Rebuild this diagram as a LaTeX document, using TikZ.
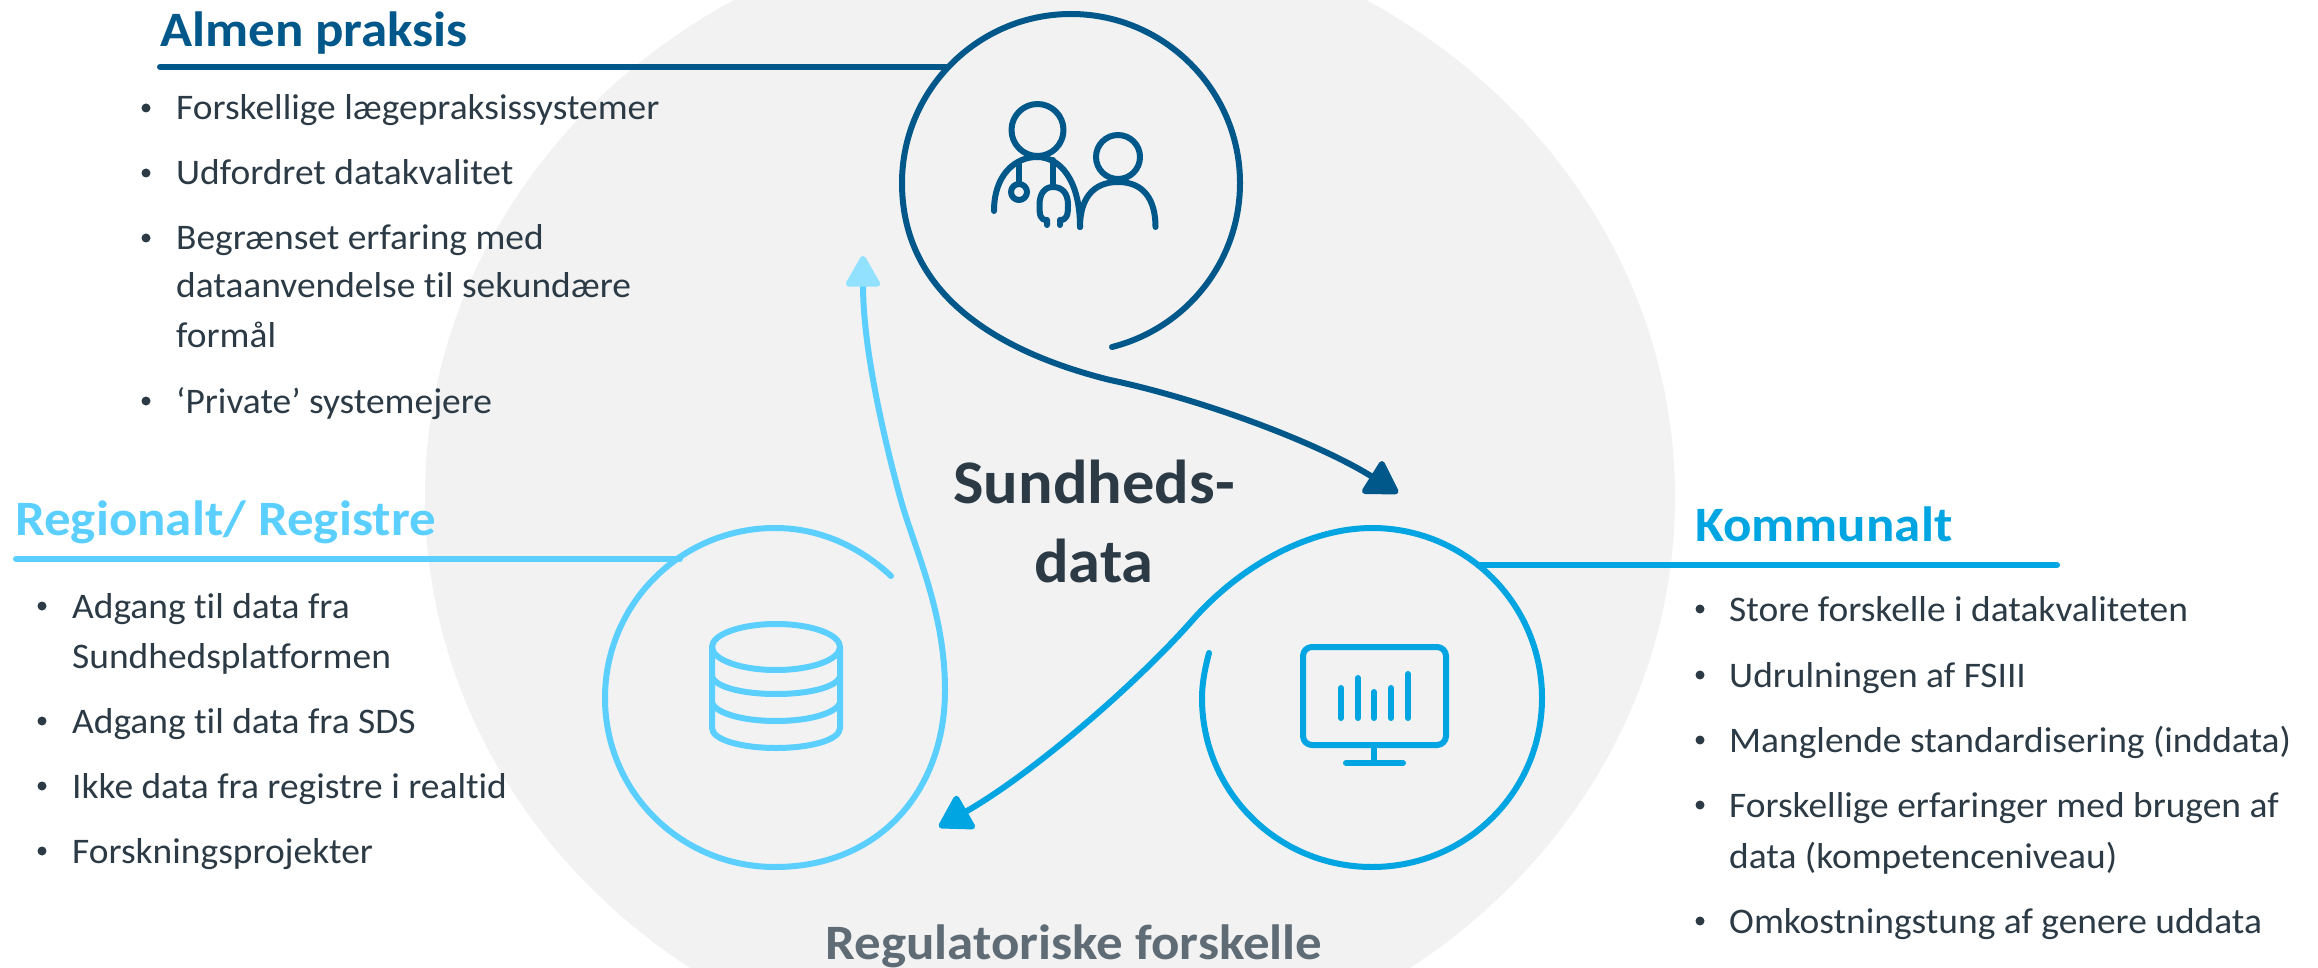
\documentclass[tikz,border=0pt]{standalone}
\usepackage{fontspec}
\setmainfont{Carlito}
\newfontfamily\bodyface[FakeStretch=1.04,RawFeature={-liga;-clig;-dlig}]{Carlito}
\newfontfamily\headface[FakeStretch=1.07,RawFeature={-liga;-clig;-dlig}]{Carlito}
\newfontfamily\midface[FakeStretch=1.04,RawFeature={-liga;-clig;-dlig}]{Carlito}
\usetikzlibrary{arrows.meta}
\definecolor{bgc}{HTML}{F2F2F2}
\definecolor{navy}{HTML}{00578A}
\definecolor{sky}{HTML}{00A5E2}
\definecolor{pale}{HTML}{5BCFFF}
\definecolor{palehead}{HTML}{92E2FF}
\definecolor{ink}{HTML}{2B3A45}
\definecolor{slate}{HTML}{5F6B75}
\tikzset{
  loopline/.style={line width=6pt,line cap=round,line join=round},
  iconline/.style={line width=6pt,line cap=round,line join=round},
  rule/.style={line width=6pt,line cap=round},
  head/.style={font=\headface\bfseries\fontsize{49.5}{49.5}\selectfont,anchor=base west,inner sep=0pt},
  body/.style={font=\bodyface\fontsize{36}{36}\selectfont,text=ink,anchor=base west,inner sep=0pt},
  mid/.style={font=\midface\bfseries\fontsize{62}{62}\selectfont,text=ink,anchor=base,inner sep=0pt},
  dotm/.style={circle,fill=ink,inner sep=0pt,minimum size=9pt},
}
\begin{document}
\begin{tikzpicture}[x=1pt,y=-1pt]
\useasboundingbox (0,0) rectangle (2318,968);
\begin{scope}
\clip (0,0) rectangle (2318,968);
\fill[bgc] (1050,497) ellipse [x radius=625pt,y radius=576pt];

% Almen praksis loop
\coordinate (a0) at (1112,347);
\coordinate (a1) at (1240,183);
\coordinate (a2) at (1071,14);
\coordinate (a3) at (902,183);
\coordinate (a4) at (1110,380);
\coordinate (a5) at (1398,493);
\draw[loopline,navy,-{Triangle[length=35pt,width=41pt,round]}]
  (a0) .. controls (1187,328) and (1240,261) .. (a1)
  .. controls (1240,90) and (1164,14) .. (a2)
  .. controls (978,14) and (902,90) .. (a3)
  .. controls (902,290) and (990,350) .. (a4)
  .. controls (1205,400) and (1320,444) .. (a5);

% Kommunalt loop
\coordinate (k0) at (1209,653);
\coordinate (k1) at (1202,698);
\coordinate (k2) at (1372,867);
\coordinate (k3) at (1542,698);
\coordinate (k4) at (1372,528);
\coordinate (k5) at (1190,623);
\coordinate (k6) at (939,827);
\draw[loopline,sky,-{Triangle[length=35pt,width=41pt,round]}]
  (k0) .. controls (1205,668) and (1202,683) .. (k1)
  .. controls (1202,792) and (1278,867) .. (k2)
  .. controls (1466,867) and (1542,792) .. (k3)
  .. controls (1542,604) and (1466,528) .. (k4)
  .. controls (1310,528) and (1240,565) .. (k5)
  .. controls (1130,690) and (1030,775) .. (k6);

% Regionalt loop
\coordinate (r0) at (891,576);
\coordinate (r1) at (775,528);
\coordinate (r2) at (605,698);
\coordinate (r3) at (775,867);
\coordinate (r4) at (945,690);
\coordinate (r5) at (900,497);
\coordinate (r6) at (863,256);
\draw[loopline,pale,-{Triangle[length=34pt,width=37pt,round,color=palehead,fill=palehead]}]
  (r0) .. controls (860,547) and (820,528) .. (r1)
  .. controls (681,528) and (605,604) .. (r2)
  .. controls (605,792) and (681,867) .. (r3)
  .. controls (880,867) and (945,790) .. (r4)
  .. controls (945,610) and (913.5,547) .. (r5)
  .. controls (879,420) and (863,340) .. (r6);

% doctor icon
\begin{scope}[iconline,navy]
\draw (1037.5,130) ellipse [x radius=26pt,y radius=26pt];
\draw (994,211) .. controls (994,175) and (1015,157) .. (1037,157)
  .. controls (1060,157) and (1080,180) .. (1080,227);
\draw (1019,163) -- (1019,183);
\draw (1019,192) circle [radius=8pt];
\draw (1053,160) -- (1053,187);
\draw (1047,225) -- (1047,220) .. controls (1040,220) and (1039.5,215) .. (1039.5,205)
  .. controls (1039.5,193) and (1045,187) .. (1053,187)
  .. controls (1062,187) and (1068,193) .. (1068,205)
  .. controls (1068,215) and (1067,220) .. (1060,220) -- (1060,225);
\draw (1118,157) ellipse [x radius=22pt,y radius=22pt];
\draw (1080,227) .. controls (1080,200) and (1092,182) .. (1118,182)
  .. controls (1144,182) and (1155.5,200) .. (1155.5,227);
\end{scope}

% monitor icon
\begin{scope}[iconline,sky]
\draw[rounded corners=9pt] (1303,647) rectangle (1446,745);
\draw (1341,688) -- (1341,718);
\draw (1358,678) -- (1358,718);
\draw (1374,692) -- (1374,718);
\draw (1391,688) -- (1391,718);
\draw (1408,674) -- (1408,718);
\draw (1374,745) -- (1374,763);
\draw (1346,763) -- (1403,763);
\end{scope}

% database icon
\begin{scope}[iconline,pale]
\draw (776,647) ellipse [x radius=64pt,y radius=23pt];
\draw (712,647) -- (712,728) .. controls (712,740) and (742,748) .. (776,748)
  .. controls (810,748) and (840,740) .. (840,728) -- (840,647);
\draw (712,677) .. controls (716,687) and (742,694) .. (776,694)
  .. controls (810,694) and (836,687) .. (840,677);
\draw (712,703) .. controls (716,713) and (742,721) .. (776,721)
  .. controls (810,721) and (836,713) .. (840,703);
\end{scope}

% rules
\coordinate (ra) at (160,67);
\coordinate (rae) at (946,67);
\draw[rule,navy] (ra) -- (rae);
\coordinate (rr) at (16,559);
\coordinate (rre) at (680,559);
\draw[rule,pale] (rr) -- (rre);
\coordinate (rk) at (1478,565);
\coordinate (rke) at (2057,565);
\draw[rule,sky] (rk) -- (rke);

% headings
\node[head,text=navy] (ta) at (160,47) {Almen praksis};
\node[head,text=pale] (tr) at (15,535) {Regionalt/ Registre};
\node[head,text=sky] (tk) at (1695,541) {Kommunalt};

% centre
\node[mid] (c1) at (1094,503) {Sundheds-};
\node[mid] (c2) at (1094,582) {data};
\node[font=\headface\bfseries\fontsize{49.5}{49.5}\selectfont,text=slate,anchor=base,inner sep=0pt] (c3) at (1074,959) {Regulatoriske forskelle};

% Almen list
\node[body] (a1t) at (176,120) {Forskellige lægepraksissystemer};
\node[body] (a2t) at (176,185) {Udfordret datakvalitet};
\node[body] (a3t) at (176,250) {Begrænset erfaring med};
\node[body] (a3u) at (176,298) {dataanvendelse til sekundære};
\node[body] (a3v) at (176,347) {formål};
\node[body] (a4t) at (176,413) {‘Private’ systemejere};
\node[dotm] (ad1) at (146,108) {};
\node[dotm] (ad2) at (146,173) {};
\node[dotm] (ad3) at (146,238) {};
\node[dotm] (ad4) at (146,401) {};

% Regional list
\node[body] (r1t) at (72,618) {Adgang til data fra};
\node[body] (r1u) at (72,668) {Sundhedsplatformen};
\node[body] (r2t) at (72,733) {Adgang til data fra SDS};
\node[body] (r3t) at (72,798) {Ikke data fra registre i realtid};
\node[body] (r4t) at (72,863) {Forskningsprojekter};
\node[dotm] (rd1) at (42,606) {};
\node[dotm] (rd2) at (42,721) {};
\node[dotm] (rd3) at (42,786) {};
\node[dotm] (rd4) at (42,851) {};

% Kommunal list
\node[body] (k1t) at (1729,621) {Store forskelle i datakvaliteten};
\node[body] (k2t) at (1729,687) {Udrulningen af FSIII};
\node[body] (k3t) at (1729,752) {Manglende standardisering (inddata)};
\node[body] (k4t) at (1729,817) {Forskellige erfaringer med brugen af};
\node[body] (k4u) at (1729,868) {data (kompetenceniveau)};
\node[body] (k5t) at (1729,933) {Omkostningstung af genere uddata};
\node[dotm] (kd1) at (1700,609) {};
\node[dotm] (kd2) at (1700,675) {};
\node[dotm] (kd3) at (1700,740) {};
\node[dotm] (kd4) at (1700,805) {};
\node[dotm] (kd5) at (1700,921) {};
\end{scope}
\end{tikzpicture}
\end{document}
